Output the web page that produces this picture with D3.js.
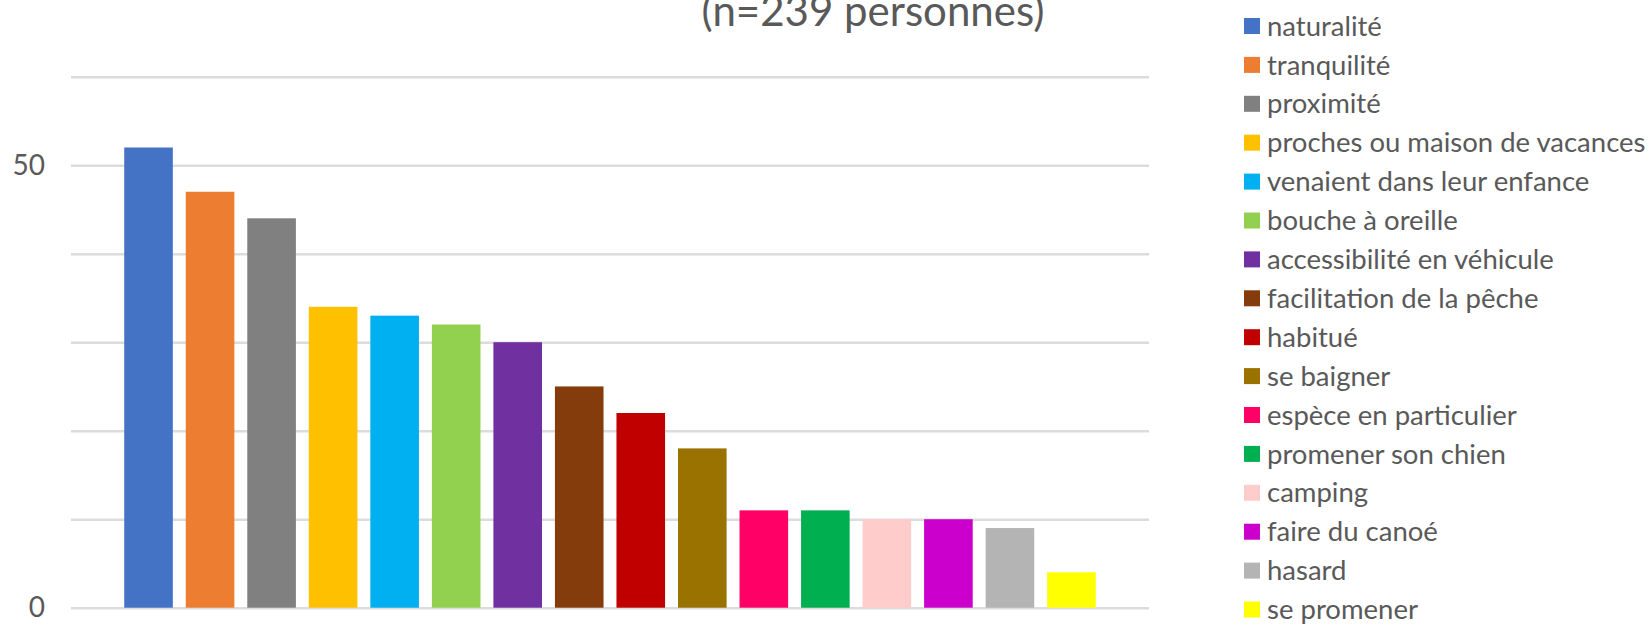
<!DOCTYPE html>
<html>
<head>
<meta charset="utf-8">
<script src="https://cdn.jsdelivr.net/npm/d3@7"></script>
<style>
  html, body { margin: 0; padding: 0; background: #fff; }
  text { font-family: Lato, "Open Sans", sans-serif; fill: #595959; }
</style>
</head>
<body>
<div id="container"></div>
<script>
// categories (one bar each), in legend order
var categories = [
  "naturalité", "tranquilité", "proximité", "proches ou maison de vacances",
  "venaient dans leur enfance", "bouche à oreille", "accessibilité en véhicule",
  "facilitation de la pêche", "habitué", "se baigner", "espèce en particulier",
  "promener son chien", "camping", "faire du canoé", "hasard", "se promener"
];
var counts = [52, 47, 44, 34, 33, 32, 30, 25, 22, 18, 11, 11, 10, 10, 9, 4];
var colors = [
  "#4472C4", "#ED7D31", "#808080", "#FFC000", "#00B0F0", "#92D050", "#7030A0",
  "#843C0C", "#C00000", "#9A7200", "#FF0066", "#00B050", "#FFCCCC", "#CC00CC",
  "#B4B4B4", "#FFFF00"
];
var gridValues = [0, 10, 20, 30, 40, 50, 60];
var tickLabels = [0, 50];
var title = "(n=239 personnes)";

var width = 1652, height = 624;
var plot = { left: 71, right: 1149, top: 76.7, bottom: 607.7 };

var svg = d3.select("#container").append("svg")
  .attr("width", width).attr("height", height);

var x = d3.scaleBand().domain(categories)
  .range([plot.left, plot.right]).paddingInner(0.21).paddingOuter(0.865);
var y = d3.scaleLinear().domain([0, 60]).range([plot.bottom, plot.top]);

var color = d3.scaleOrdinal().domain(categories).range(colors);

// gridlines + the two labels
var yAxis = d3.axisLeft(y).tickValues(gridValues)
  .tickSize(-(plot.right - plot.left)).tickPadding(26)
  .tickFormat(function (d) { return tickLabels.indexOf(d) >= 0 ? d : ""; });

var gy = svg.append("g").attr("transform", "translate(" + plot.left + ",0)").call(yAxis);
gy.select(".domain").remove();
gy.selectAll("line").attr("stroke", "#dcdcdc").attr("stroke-width", 2.5);
gy.selectAll("text").style("font-size", "28px").attr("fill", "#595959");

svg.append("g").selectAll("rect").data(categories).enter().append("rect")
  .attr("x", function (d) { return x(d); })
  .attr("width", x.bandwidth())
  .attr("y", function (d, i) { return y(counts[i]); })
  .attr("height", function (d, i) { return y(0) - y(counts[i]); })
  .attr("fill", function (d) { return color(d); });

// title is clipped by the top edge in the original too
svg.append("text").attr("x", 873).attr("y", 26)
  .attr("text-anchor", "middle").style("font-size", "42px").text(title);

// legend
var legend = svg.append("g").attr("transform", "translate(1244,26)")
  .selectAll("g").data(categories).enter().append("g")
  .attr("transform", function (d, i) { return "translate(0," + (i * 38.9) + ")"; });

legend.append("rect").attr("x", 0).attr("y", -8).attr("width", 16).attr("height", 16)
  .attr("fill", function (d) { return color(d); });
legend.append("text").attr("x", 23).attr("dy", "0.35em")
  .style("font-size", "27.5px").text(function (d) { return d; });
</script>
</body>
</html>
